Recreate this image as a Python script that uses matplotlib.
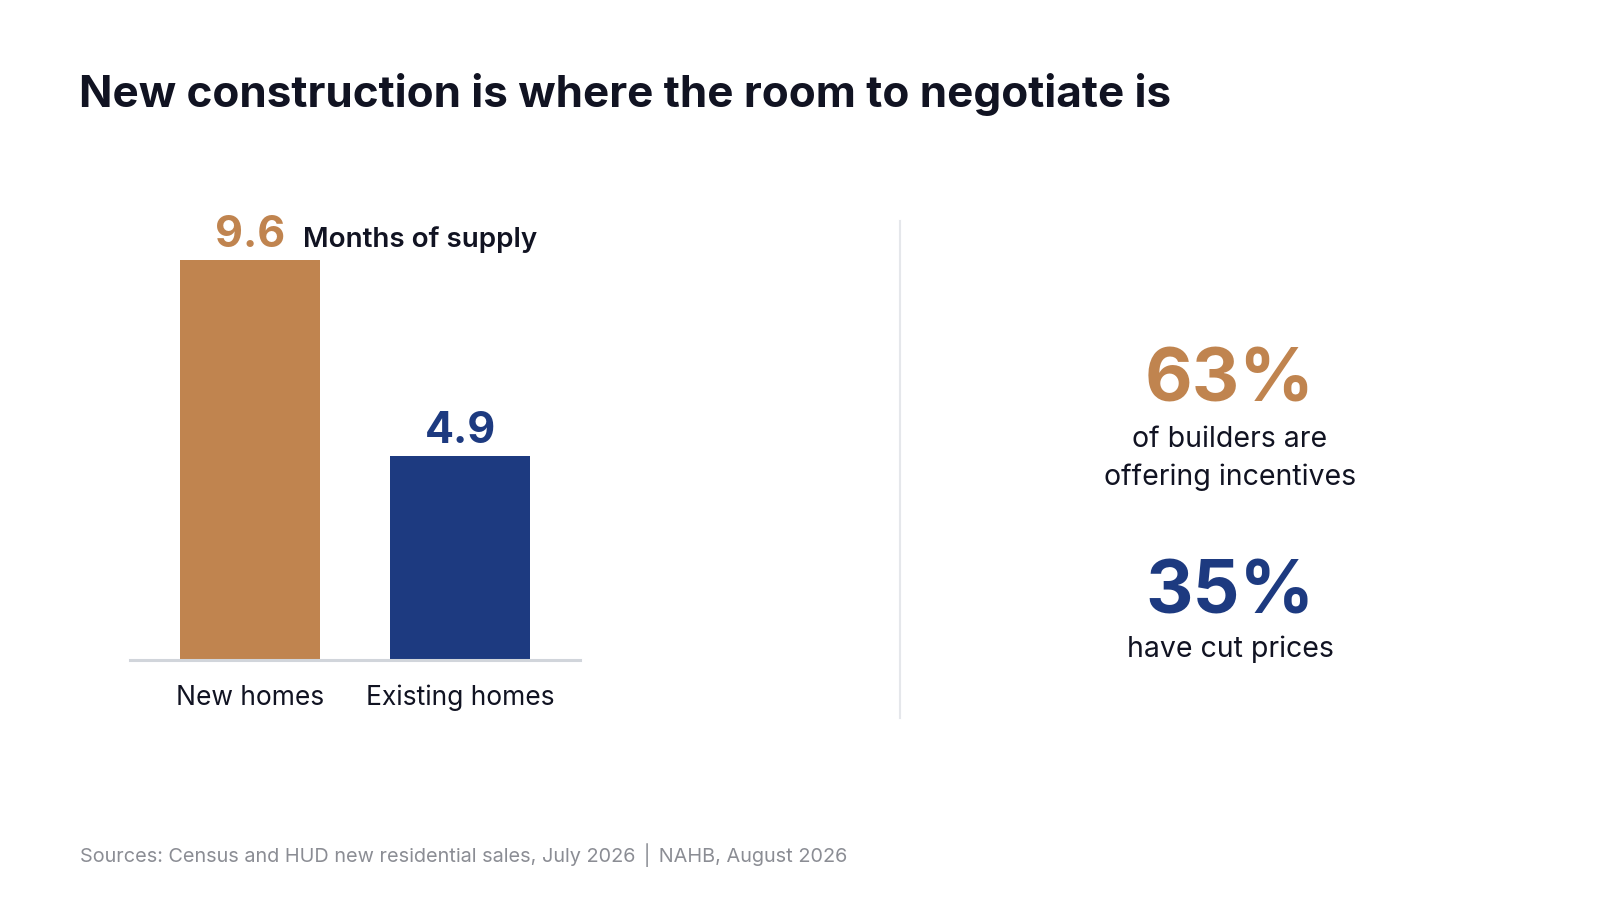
import matplotlib.pyplot as plt
from matplotlib.transforms import blended_transform_factory

plt.rcParams.update({
    'font.family': ['Inter', 'DejaVu Sans'],
    'figure.dpi': 100,
})

# data
categories = ['New homes', 'Existing homes']
months_supply = [9.6, 4.9]
stat_values = ['63%', '35%']
stat_captions = ['of builders are\noffering incentives', 'have cut prices']

TAN = '#C0844F'
NAVY = '#1D3A80'
INK = '#111322'
bar_colors = [TAN, NAVY]

W, H = 1600, 900


def fx(px):
    return px / W


def fy(py):
    return 1 - py / H


fig = plt.figure(figsize=(16, 9))
fig.patch.set_facecolor('white')

# bar panel (pixel box: x 130-580, y 210-660)
ax = fig.add_axes([fx(130), fy(660), 450 / W, 450 / H])
x = range(len(categories))
ax.bar(x, months_supply, width=0.667, color=bar_colors, zorder=2)
ax.set_xlim(-0.571, 1.571)
ax.set_ylim(0, 10.8)
ax.axhline(0, color='#d1d5db', linewidth=2.2, zorder=3, clip_on=False)
for s in ax.spines.values():
    s.set_visible(False)
ax.set_yticks([])
ax.set_xticks([])

# category labels, common baseline
lbl_tr = blended_transform_factory(ax.transData, fig.transFigure)
for i, cat in enumerate(categories):
    ax.text(i, fy(705), cat, transform=lbl_tr, ha='center', va='baseline',
            fontsize=19, color=INK)

for i, (v, c) in enumerate(zip(months_supply, bar_colors)):
    ax.annotate(f'{v:.1f}', (i, v), xytext=(0, 9.5), textcoords='offset points',
                ha='center', va='baseline', fontsize=31, fontweight='bold', color=c)
ax.annotate('Months of supply', (0, months_supply[0]), xytext=(38, 9.5),
            textcoords='offset points', ha='left', va='baseline',
            fontsize=20, fontweight='semibold', color=INK)

# divider
fig.add_artist(plt.Line2D([fx(900), fx(900)], [fy(221), fy(718)],
                          color='#e5e7eb', linewidth=1.5))

# right-hand stats
cx = 1230
fig.text(fx(cx), fy(402), stat_values[0], ha='center', va='baseline',
         fontsize=53, fontweight='bold', color=TAN)
fig.text(fx(cx), fy(447), 'of builders are', ha='center', va='baseline',
         fontsize=20.5, color=INK)
fig.text(fx(cx), fy(485), 'offering incentives', ha='center', va='baseline',
         fontsize=20.5, color=INK)
fig.text(fx(cx), fy(613), stat_values[1], ha='center', va='baseline',
         fontsize=53, fontweight='bold', color=NAVY)
fig.text(fx(cx), fy(657), stat_captions[1], ha='center', va='baseline',
         fontsize=20.5, color=INK)

# title and source
fig.text(fx(79), fy(107), 'New construction is where the room to negotiate is',
         ha='left', va='baseline', fontsize=31.7, fontweight='bold', color=INK)
fig.text(fx(80), fy(862), 'Sources: Census and HUD new residential sales, July 2026 \u2502 NAHB, August 2026',
         ha='left', va='baseline', fontsize=14.3, color='#8b8d94')

fig.savefig('out.png', dpi=100, facecolor='white')
